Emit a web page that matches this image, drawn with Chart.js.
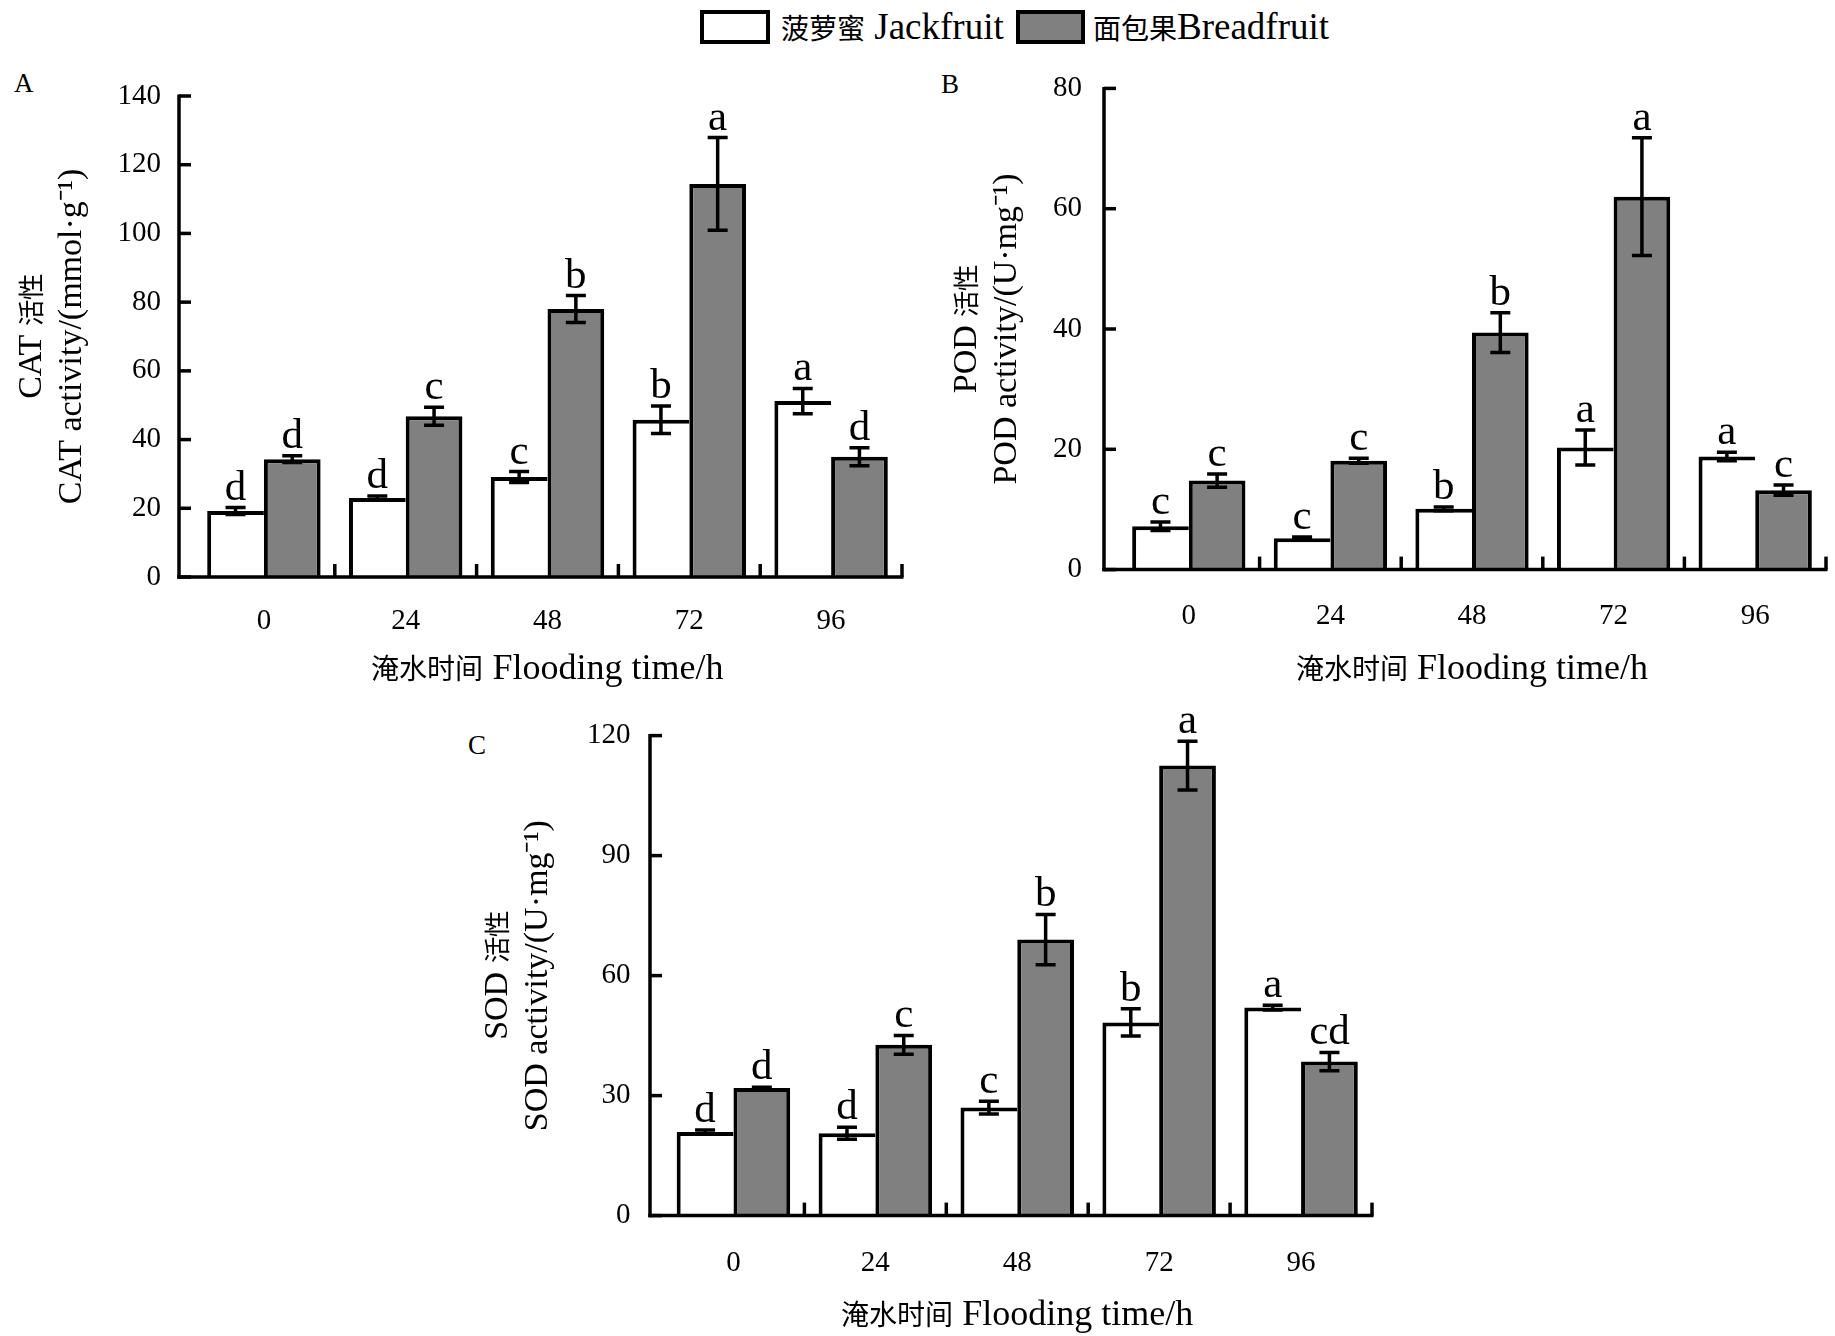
<!DOCTYPE html>
<html><head><meta charset="utf-8">
<script src="https://cdn.jsdelivr.net/npm/chart.js@4.4.1/dist/chart.umd.min.js"></script>
<style>
@font-face{font-family:'CJKs';src:local('Noto Sans CJK SC'),local('Noto Sans CJK SC Regular'),local('NotoSansCJKsc-Regular');size-adjust:78%;}
html,body{margin:0;padding:0;background:#fff}
body{width:1835px;height:1336px;position:relative;overflow:hidden;font-family:'Liberation Serif',CJKs,'Noto Sans CJK SC',serif;color:#000}
canvas{position:absolute}
.lbl{position:absolute;line-height:1;white-space:nowrap}
.box{position:absolute;box-sizing:border-box;border:4px solid #000}
.cj{font-size:36px}
</style></head><body>
<div class="box" style="left:700px;top:10px;width:70px;height:34px;background:#fff"></div>
<div class="lbl" id="leg1" style="left:781px;top:8px;font-size:37px"></div>
<div class="box" style="left:1016px;top:10px;width:69px;height:34px;background:#808080"></div>
<div class="lbl" id="leg2" style="left:1093px;top:8px;font-size:37px"></div>
<div class="lbl" style="left:14px;top:70px;font-size:27px">A</div>
<div class="lbl" style="left:941px;top:71px;font-size:27px">B</div>
<div class="lbl" style="left:468px;top:732px;font-size:27px">C</div>
<canvas id="cA"></canvas>
<canvas id="cB"></canvas>
<canvas id="cC"></canvas>
<script>
// ---------- data ----------
const timeLabels = ['0', '24', '48', '72', '96'];
const seriesCN = ['菠萝蜜', '面包果'];
const seriesEN = [' Jackfruit', 'Breadfruit'];
const seriesNames = [seriesCN[0] + seriesEN[0], seriesCN[1] + seriesEN[1]];
const xTitle = '淹水时间 Flooding time/h';

const catTitle = ['CAT 活性', 'CAT activity/(mmol·g⁻¹)'];
const catJack = [19.2, 23.0, 29.1, 45.8, 51.2];
const catJackErr = [1.0, 0.6, 1.6, 4.0, 3.7];
const catBread = [34.3, 46.8, 78.0, 114.4, 35.0];
const catBreadErr = [1.0, 2.6, 3.9, 13.5, 2.6];
const catJackSig = ['d', 'd', 'c', 'b', 'a'];
const catBreadSig = ['d', 'c', 'b', 'a', 'd'];
const catTicks = [0, 140, 20];

const podTitle = ['POD 活性', 'POD activity/(U·mg⁻¹)'];
const podJack = [7.2, 5.2, 10.1, 20.3, 18.8];
const podJackErr = [0.7, 0.2, 0.3, 2.9, 0.7];
const podBread = [14.8, 18.1, 39.4, 62.0, 13.2];
const podBreadErr = [1.1, 0.4, 3.3, 9.8, 0.85];
const podJackSig = ['c', 'c', 'b', 'a', 'a'];
const podBreadSig = ['c', 'c', 'b', 'a', 'c'];
const podTicks = [0, 80, 20];

const sodTitle = ['SOD 活性', 'SOD activity/(U·mg⁻¹)'];
const sodJack = [20.9, 20.6, 27.0, 48.3, 52.0];
const sodJackErr = [0.5, 1.5, 1.6, 3.4, 0.6];
const sodBread = [31.9, 42.7, 69.0, 112.5, 38.5];
const sodBreadErr = [0.2, 2.35, 6.3, 6.1, 2.3];
const sodJackSig = ['d', 'd', 'c', 'b', 'a'];
const sodBreadSig = ['d', 'c', 'b', 'a', 'cd'];
const sodTicks = [0, 120, 30];

// ---------- style ----------
const FONT = "'Liberation Serif', CJKs, 'Noto Sans CJK SC', serif";
const GRAY = '#808080';
['leg1', 'leg2'].forEach((id, k) => {
  const el = document.getElementById(id);
  const s = document.createElement('span');
  s.className = 'cj';
  s.textContent = seriesCN[k];
  el.appendChild(s);
  el.appendChild(document.createTextNode(seriesEN[k]));
});

const overlay = {
  id: 'overlay',
  afterDatasetsDraw(chart, args, o) {
    const ctx = chart.ctx, xs = chart.scales.x, ys = chart.scales.y, ca = chart.chartArea;
    const axisX = ca.left - o.axisOffset;
    const y0 = ys.getPixelForValue(0);
    ctx.save();
    ctx.strokeStyle = '#000';
    ctx.lineWidth = 3.5;
    ctx.beginPath();
    ctx.moveTo(axisX, ys.getPixelForValue(ys.max) - 1.5);
    ctx.lineTo(axisX, y0 + 1.75);
    ctx.stroke();
    ctx.beginPath();
    ctx.moveTo(axisX - 1.75, y0);
    ctx.lineTo(ca.right + 1.5, y0);
    ctx.stroke();
    ys.ticks.forEach(t => {
      const y = ys.getPixelForValue(t.value);
      ctx.beginPath(); ctx.moveTo(axisX, y); ctx.lineTo(axisX + 12, y); ctx.stroke();
    });
    const cw = xs.getPixelForValue(1) - xs.getPixelForValue(0);
    for (let i = 0; i < xs.ticks.length; i++) {
      const x = xs.getPixelForValue(i) + cw / 2;
      ctx.beginPath(); ctx.moveTo(x, y0); ctx.lineTo(x, y0 - 13); ctx.stroke();
    }
    ctx.lineWidth = 3.5;
    ctx.fillStyle = '#000';
    ctx.font = '43px ' + FONT;
    ctx.textAlign = 'center';
    ctx.textBaseline = 'alphabetic';
    chart.data.datasets.forEach((ds, d) => {
      const meta = chart.getDatasetMeta(d);
      meta.data.forEach((el, i) => {
        const v = ds.data[i], e = o.errors[d][i];
        const yt = ys.getPixelForValue(v + e), yb = ys.getPixelForValue(v - e);
        const x = el.x;
        ctx.beginPath();
        ctx.moveTo(x, yt); ctx.lineTo(x, yb);
        ctx.moveTo(x - 10, yt); ctx.lineTo(x + 10, yt);
        ctx.moveTo(x - 10, yb); ctx.lineTo(x + 10, yb);
        ctx.stroke();
        ctx.fillText(o.sig[d][i], x, yt - 8);
      });
    });
    ctx.restore();
  }
};

function makeChart(id, L, title, jack, bread, jackErr, breadErr, jackSig, breadSig, ticks) {
  const cv = document.getElementById(id);
  cv.width = L.box.w; cv.height = L.box.h;
  cv.style.left = L.box.x + 'px'; cv.style.top = L.box.y + 'px';
  cv.style.width = L.box.w + 'px'; cv.style.height = L.box.h + 'px';
  const ySize = 34, yLH = 40 / 34, xSize = 36, xLH = 1.2, tickLH = 29 * 1.2;
  const pl = L.yTitle - L.box.x - 20;
  const yWidth = L.area.l - L.box.x - pl;
  const pt = L.area.t - L.box.y;
  const pr = L.box.x + L.box.w - L.area.r;
  const xBottom = L.xTitle + xSize * xLH / 2;
  const xHeight = xBottom - L.area.b;
  const pb = L.box.y + L.box.h - xBottom;
  return new Chart(cv, {
    type: 'bar',
    data: {
      labels: timeLabels,
      datasets: [
        { label: seriesNames[0], data: jack, backgroundColor: '#ffffff', borderColor: '#000',
          borderWidth: { top: 4, left: 4, right: 0, bottom: 0 }, borderSkipped: 'start',
          categoryPercentage: 0.8, barPercentage: 1.0 },
        { label: seriesNames[1], data: bread, backgroundColor: GRAY, borderColor: '#000',
          borderWidth: 4, borderSkipped: 'start',
          categoryPercentage: 0.8, barPercentage: 1.0 }
      ]
    },
    options: {
      responsive: false,
      animation: false,
      devicePixelRatio: 1,
      layout: { padding: { left: pl, right: pr, top: pt, bottom: pb } },
      plugins: {
        legend: { display: false },
        tooltip: { enabled: false },
        overlay: { axisOffset: L.axisOffset, errors: [jackErr, breadErr], sig: [jackSig, breadSig] }
      },
      scales: {
        x: {
          type: 'category',
          grid: { display: false, drawTicks: false },
          border: { display: false },
          ticks: { color: '#000', padding: L.xLabel - L.area.b - tickLH / 2, font: { family: FONT, size: 29 } },
          title: { display: true, text: xTitle, color: '#000', padding: 0, font: { family: FONT, size: xSize, lineHeight: xLH } },
          afterFit: s => { s.height = xHeight; }
        },
        y: {
          min: ticks[0], max: ticks[1],
          grid: { display: false, drawTicks: false },
          border: { display: false },
          ticks: { stepSize: ticks[2], color: '#000', padding: L.area.l - L.tickRight, font: { family: FONT, size: 29 } },
          title: { display: true, text: title, color: '#000', padding: 0, font: { family: FONT, size: ySize, lineHeight: yLH } },
          afterFit: s => { s.width = yWidth; }
        }
      }
    },
    plugins: [overlay]
  });
}

function drawAll() {
  makeChart('cA', { box: { x: 0, y: 40, w: 920, h: 665 }, area: { l: 193, r: 902, t: 96, b: 577 },
    yTitle: 32, tickRight: 161, xLabel: 621, xTitle: 670, axisOffset: 14 },
    catTitle, catJack, catBread, catJackErr, catBreadErr, catJackSig, catBreadSig, catTicks);
  makeChart('cB', { box: { x: 920, y: 30, w: 915, h: 670 }, area: { l: 1118, r: 1826, t: 88.4, b: 569.6 },
    yTitle: 967, tickRight: 1082, xLabel: 616, xTitle: 670, axisOffset: 14 },
    podTitle, podJack, podBread, podJackErr, podBreadErr, podJackSig, podBreadSig, podTicks);
  makeChart('cC', { box: { x: 440, y: 680, w: 960, h: 656 }, area: { l: 662.5, r: 1372, t: 735.6, b: 1215.6 },
    yTitle: 498, tickRight: 630.5, xLabel: 1263.7, xTitle: 1316, axisOffset: 12.5 },
    sodTitle, sodJack, sodBread, sodJackErr, sodBreadErr, sodJackSig, sodBreadSig, sodTicks);
}

Promise.all([
  document.fonts.load("36px CJKs", "活性淹水时间菠萝蜜面包果"),
  document.fonts.load("36px 'Liberation Serif'", "Flooding")
]).catch(() => {}).then(drawAll);
</script>
</body></html>
